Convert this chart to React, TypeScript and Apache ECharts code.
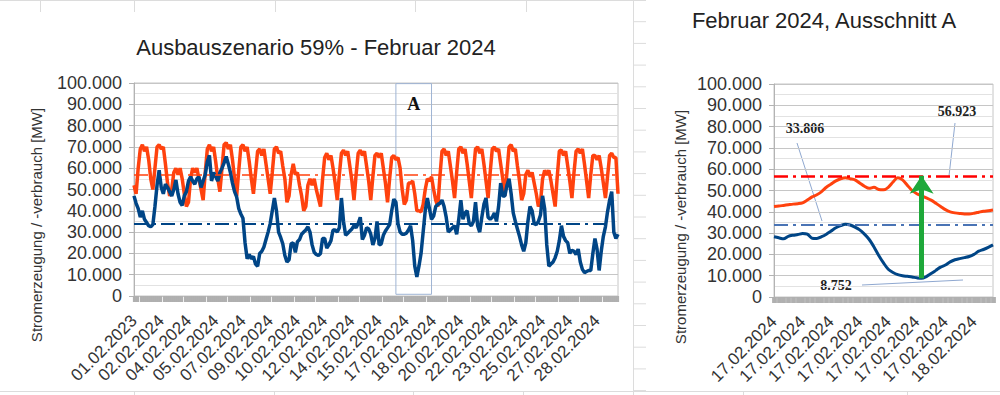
import React, { useEffect, useRef } from 'react';
import * as echarts from 'echarts';

// ---------- Left chart: February 2024, 3-hour steps (232 points) ----------
const consumptionFeb: number[] = [
  52000, 48000, 60000, 69000, 71000, 68000, 70000, 64000,
  55000, 50000, 60000, 70000, 71000, 69000, 70000, 62000,
  53000, 47000, 50000, 58000, 60000, 57000, 60000, 55000,
  48000, 42000, 44000, 55000, 60000, 58000, 60000, 55000,
  50000, 45000, 58000, 69000, 71000, 68000, 70000, 63000,
  55000, 49000, 60000, 71000, 72000, 69000, 71000, 64000,
  55000, 47000, 59000, 70000, 71000, 68000, 70000, 63000,
  55000, 48000, 58000, 68000, 69000, 66000, 69000, 62000,
  55000, 48000, 58000, 69000, 70000, 67000, 68000, 61000,
  55000, 44000, 47000, 57000, 62000, 57000, 58000, 52000,
  47000, 40000, 42000, 52000, 55000, 52000, 55000, 50000,
  46000, 42000, 55000, 65000, 67000, 64000, 66000, 60000,
  53000, 45000, 57000, 67000, 68500, 66000, 68000, 61000,
  54000, 45000, 57000, 67000, 68500, 66000, 68000, 61000,
  54000, 45000, 56000, 66000, 67000, 65000, 67000, 60000,
  53000, 44000, 55000, 65000, 66000, 64000, 65000, 60000,
  50000, 43000, 45000, 53000, 53000, 54000, 48000, 40000,
  40000, 39500, 43000, 50000, 55000, 54000, 56000, 50000,
  45000, 42000, 56000, 68000, 69000, 66000, 68000, 61000,
  54000, 46000, 58000, 69000, 70000, 67000, 69000, 62000,
  54000, 46000, 58000, 69000, 70000, 67000, 69000, 62000,
  54000, 46000, 58000, 69000, 70000, 68000, 69000, 62000,
  55000, 47000, 58000, 70000, 71000, 68000, 69000, 61000,
  54000, 45000, 48000, 57000, 59000, 56000, 58000, 53000,
  48000, 42000, 44000, 55000, 59000, 57000, 59000, 54000,
  48000, 42000, 56000, 68000, 68500, 66000, 68000, 61000,
  54000, 46000, 58000, 68000, 69000, 67000, 69000, 62000,
  54000, 46000, 57000, 66000, 66000, 64000, 66000, 60000,
  53000, 46000, 56000, 66000, 67000, 65000, 65000, 48000,
];

const generationFeb: number[] = [
  47000, 43500, 41000, 37000, 40000, 36000, 34500, 33000,
  32500, 33500, 42000, 52000, 59000, 51000, 48000, 52500,
  51000, 49000, 47000, 50000, 54500, 48000, 44000, 42500,
  47000, 49000, 54000, 56000, 54000, 52500, 55000, 56000,
  51000, 54000, 57000, 63000, 66000, 54000, 58000, 56000,
  54000, 58000, 60000, 62500, 65500, 62000, 58000, 53000,
  49000, 46500, 41000, 38500, 36500, 25000, 17500, 19500,
  17500, 18500, 15000, 14000, 20000, 21000, 23000, 26500,
  30000, 34000, 40000, 46000, 40000, 30000, 27500, 24500,
  19000, 16000, 17000, 24500, 25000, 20500, 25500, 26500,
  29000, 30000, 31000, 32500, 30000, 24000, 20500, 19500,
  19000, 20000, 27000, 27000, 22500, 24000, 26000, 31000,
  31000, 30000, 32000, 46000, 35000, 28500, 29500, 30500,
  31500, 33000, 32000, 34000, 37000, 26500, 28500, 32000,
  31500, 29000, 24000, 27000, 35000, 24000, 24500, 28500,
  30500, 32000, 33500, 40000, 45500, 44000, 34000, 30000,
  29000, 29000, 29500, 31000, 33000, 26000, 14000, 9000,
  14000, 20000, 30000, 40000, 46000, 41000, 36000, 37500,
  42000, 43000, 43500, 45000, 42000, 37000, 30000, 31000,
  32000, 33000, 29000, 36000, 45000, 36000, 39000, 40000,
  34000, 33000, 35000, 44000, 33000, 30000, 37000, 43000,
  46000, 37000, 36000, 37000, 39000, 35000, 42000, 53000,
  47000, 47000, 52000, 55000, 48000, 39000, 35000, 31500,
  28000, 24000, 21000, 25000, 35000, 42000, 40000, 34000,
  33500, 35000, 38000, 47000, 41000, 24000, 14000, 15000,
  16000, 18000, 21000, 26000, 33000, 28000, 26000, 25000,
  20000, 21500, 21000, 19500, 22000, 16000, 12500, 11000,
  11500, 12000, 12000, 20000, 27000, 22000, 12000, 21000,
  28000, 32500, 39500, 45000, 49000, 30000, 27000, 29000,
];

// ---------- Right chart: Ausschnitt A, half-hour steps from 17.02. 03:00 ----------
const consumptionA: number[] = [
  42500, 42700, 43000, 43300, 43600, 43800, 44200, 45500, 47000, 48000,
  49500, 51500, 53000, 54500, 55500, 56000, 55500, 55000, 53500, 52000,
  51000, 51500, 50500, 50300, 51500, 54000, 56000, 55000, 52500, 50000,
  48500, 47500, 46500, 45500, 44000, 42500, 41000, 40000, 39500, 39200,
  39000, 39000, 39300, 39800, 40300, 40500, 40800,
];
const generationA: number[] = [
  28300, 27800, 27300, 28500, 29000, 29300, 29800, 29500, 27600, 27500,
  28300, 29500, 31000, 32500, 33500, 34200, 33800, 32800, 31500, 29500,
  27000, 23500, 19500, 16000, 13000, 11500, 10500, 10000, 9700, 9400,
  9000, 8752, 9600, 11000, 12500, 14000, 15000, 16500, 17500, 18000,
  18500, 19000, 20000, 21500, 22300, 23300, 24500,
];

const maxConsumption = 56923;
const avgGeneration = 33806;
const minGeneration = 8752;
const minGenerationIndex = 31;
const boxStartIndex = 125;
const boxEndIndex = 142;

const leftTitle = 'Ausbauszenario 59% - Februar 2024';
const rightTitle = 'Februar 2024, Ausschnitt A';
const yAxisTitle = 'Stromerzeugung / -verbrauch [MW]';

const leftCategories: string[] = consumptionFeb.map((_, i) => {
  const d = Math.floor(i / 8) + 1;
  return i === 0 ? '01.02.2023' : `${String(d).padStart(2, '0')}.02.2024`;
});
const rightCategories: string[] = consumptionA.map((_, k) => (k < 42 ? '17.02.2024' : '18.02.2024'));

const FONT = '"Liberation Sans", Arial, sans-serif';
const SERIF = '"Liberation Serif", "Times New Roman", serif';
const BLUE = '#004586';
const ORANGE = '#ff420e';

const fmt = (v: number) => String(v).replace(/\B(?=(\d{3})+(?!\d))/g, '.');

function yAxis(gridIndex: number) {
  return {
    type: 'value',
    gridIndex,
    min: 0,
    max: 100000,
    interval: 10000,
    axisLine: { show: true, lineStyle: { color: '#b3b3b3' } },
    axisTick: { show: true, length: 5, lineStyle: { color: '#b3b3b3' } },
    axisLabel: { fontSize: 18, color: '#333', margin: 12, fontFamily: FONT, formatter: fmt },
    splitLine: { lineStyle: { color: '#c6c6c6', width: 1 } },
    minorTick: { show: false, splitNumber: 2 },
    minorSplitLine: { show: true, lineStyle: { color: '#e2e2e2', width: 1 } },
  };
}

function xAxis(gridIndex: number, data: string[], interval: number, tickWidth: number) {
  return {
    type: 'category',
    gridIndex,
    data,
    boundaryGap: false,
    axisLine: { show: false },
    axisTick: { show: true, interval: 0, length: 6, lineStyle: { color: '#b0b0b0', width: tickWidth } },
    axisLabel: {
      interval,
      rotate: 45,
      fontSize: 17,
      color: '#333',
      margin: 22,
      fontFamily: FONT,
    },
    splitLine: { show: false },
  };
}

const dashDot = [14, 5, 3, 5];

export default function App() {
  const ref = useRef<HTMLDivElement>(null);
  useEffect(() => {
    if (!ref.current) return;
    const chart = echarts.init(ref.current, undefined, { renderer: 'svg' });

    const rowLines: any[] = [];
    for (let y = 21.7; y < 395; y += 21.7) {
      rowLines.push({ type: 'line', shape: { x1: 633, y1: y, x2: 646, y2: y }, style: { stroke: '#dcdcdc', lineWidth: 1 }, silent: true });
    }
    const colTop = [40, 134, 275, 415, 526];
    const colBottom = [134, 274, 413, 523, 743, 907];

    chart.setOption({
      animation: false,
      backgroundColor: '#ffffff',
      grid: [
        { left: 134, top: 83, width: 484, height: 213, show: true, borderColor: '#c6c6c6', borderWidth: 1 },
        { left: 774, top: 84, width: 219, height: 213, show: true, borderColor: '#c6c6c6', borderWidth: 1 },
      ],
      xAxis: [xAxis(0, leftCategories, 12, 2.2), xAxis(1, rightCategories, 5, 4.8)],
      yAxis: [yAxis(0), yAxis(1)],
      series: [
        {
          type: 'line',
          name: 'Verbrauch',
          xAxisIndex: 0,
          yAxisIndex: 0,
          data: consumptionFeb,
          showSymbol: false,
          lineStyle: { color: ORANGE, width: 3.5 },
          itemStyle: { color: ORANGE },
          markLine: {
            silent: true,
            symbol: 'none',
            label: { show: false },
            lineStyle: { color: ORANGE, width: 1.5, type: dashDot },
            data: [{ yAxis: maxConsumption }],
          },
          markArea: {
            silent: true,
            itemStyle: { color: 'rgba(0,0,0,0)', borderColor: '#9fb4d4', borderWidth: 1 },
            label: {
              show: true,
              position: 'insideTop',
              distance: 12,
              formatter: 'A',
              fontFamily: SERIF,
              fontWeight: 'bold',
              fontSize: 18,
              color: '#111',
            },
            data: [[{ xAxis: boxStartIndex, yAxis: 99700 }, { xAxis: boxEndIndex, yAxis: 800 }]],
          },
        },
        {
          type: 'line',
          name: 'Erzeugung',
          xAxisIndex: 0,
          yAxisIndex: 0,
          data: generationFeb,
          showSymbol: false,
          lineStyle: { color: BLUE, width: 3.5 },
          itemStyle: { color: BLUE },
          markLine: {
            silent: true,
            symbol: 'none',
            label: { show: false },
            lineStyle: { color: BLUE, width: 2, type: dashDot },
            data: [{ yAxis: avgGeneration }],
          },
        },
        {
          type: 'line',
          name: 'Verbrauch A',
          xAxisIndex: 1,
          yAxisIndex: 1,
          data: consumptionA,
          showSymbol: false,
          smooth: 0.3,
          lineStyle: { color: ORANGE, width: 3 },
          itemStyle: { color: ORANGE },
          markLine: {
            silent: true,
            symbol: 'none',
            label: { show: false },
            data: [
              { yAxis: maxConsumption, lineStyle: { color: '#ff0000', width: 2.5, type: dashDot } },
              { yAxis: avgGeneration, lineStyle: { color: '#4a74b5', width: 2, type: dashDot } },
            ],
          },
        },
        {
          type: 'line',
          name: 'Erzeugung A',
          xAxisIndex: 1,
          yAxisIndex: 1,
          data: generationA,
          showSymbol: false,
          smooth: 0.3,
          lineStyle: { color: BLUE, width: 3 },
          itemStyle: { color: BLUE },
          markLine: {
            silent: true,
            symbol: ['none', 'arrow'],
            symbolSize: [18, 18],
            label: { show: false },
            lineStyle: { color: '#1ea83a', width: 5, type: 'solid' },
            itemStyle: { color: '#1ea83a' },
            data: [
              [
                { coord: [minGenerationIndex, minGeneration] },
                { coord: [minGenerationIndex, maxConsumption] },
              ],
            ],
          },
        },
      ],
      graphic: [
        { type: 'line', shape: { x1: 0, y1: 0.5, x2: 646, y2: 0.5 }, style: { stroke: '#dcdcdc', lineWidth: 1 }, silent: true },
        { type: 'line', shape: { x1: 633.5, y1: 0, x2: 633.5, y2: 395 }, style: { stroke: '#dcdcdc', lineWidth: 1 }, silent: true },
        { type: 'line', shape: { x1: 0, y1: 391.5, x2: 1000, y2: 391.5 }, style: { stroke: '#dcdcdc', lineWidth: 1 }, silent: true },
        ...colTop.map((x) => ({ type: 'line', shape: { x1: x + 0.5, y1: 0, x2: x + 0.5, y2: 12 }, style: { stroke: '#dcdcdc', lineWidth: 1 }, silent: true })),
        ...colBottom.map((x) => ({ type: 'line', shape: { x1: x + 0.5, y1: 391, x2: x + 0.5, y2: 395 }, style: { stroke: '#dcdcdc', lineWidth: 1 }, silent: true })),
        ...rowLines,
        {
          type: 'text', x: 316, y: 47,
          style: { text: leftTitle, fontSize: 22, fontFamily: FONT, fill: '#222', align: 'center', verticalAlign: 'middle' },
        },
        {
          type: 'text', x: 824, y: 20,
          style: { text: rightTitle, fontSize: 22, fontFamily: FONT, fill: '#222', align: 'center', verticalAlign: 'middle' },
        },
        {
          type: 'text', x: 36, y: 225, rotation: Math.PI / 2,
          style: { text: yAxisTitle, fontSize: 15, fontFamily: FONT, fill: '#333', align: 'center', verticalAlign: 'middle' },
        },
        {
          type: 'text', x: 680, y: 227, rotation: Math.PI / 2,
          style: { text: yAxisTitle, fontSize: 15, fontFamily: FONT, fill: '#333', align: 'center', verticalAlign: 'middle' },
        },
        { type: 'line', shape: { x1: 797, y1: 143, x2: 822, y2: 221 }, style: { stroke: '#8fa8d0', lineWidth: 1 }, silent: true },
        { type: 'line', shape: { x1: 955, y1: 123, x2: 949, y2: 176 }, style: { stroke: '#8fa8d0', lineWidth: 1 }, silent: true },
        { type: 'line', shape: { x1: 862, y1: 285, x2: 963, y2: 280 }, style: { stroke: '#8fa8d0', lineWidth: 1 }, silent: true },
        {
          type: 'text', x: 805, y: 128,
          style: { text: fmt(avgGeneration), fontSize: 14, fontWeight: 'bold', fontFamily: SERIF, fill: '#222', align: 'center', verticalAlign: 'middle' },
        },
        {
          type: 'text', x: 957, y: 111,
          style: { text: fmt(maxConsumption), fontSize: 14, fontWeight: 'bold', fontFamily: SERIF, fill: '#222', align: 'center', verticalAlign: 'middle' },
        },
        {
          type: 'text', x: 836, y: 285,
          style: { text: fmt(minGeneration), fontSize: 14, fontWeight: 'bold', fontFamily: SERIF, fill: '#222', align: 'center', verticalAlign: 'middle' },
        },
      ],
    });
    return () => chart.dispose();
  }, []);

  return (
    <div
      ref={ref}
      style={{ position: 'fixed', left: 0, top: 0, width: 1000, height: 395, background: '#fff' }}
    />
  );
}
